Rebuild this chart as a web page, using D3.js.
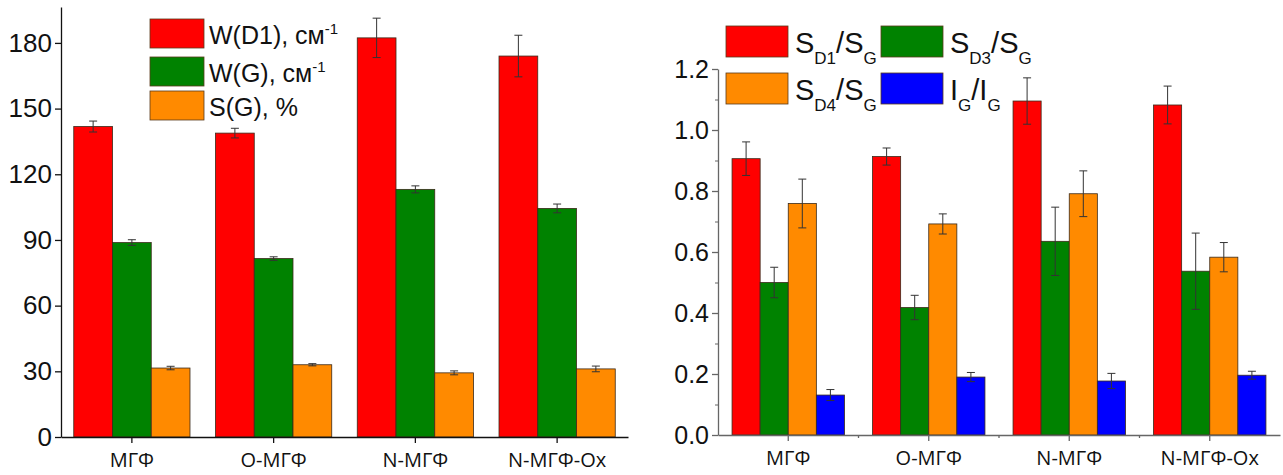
<!DOCTYPE html>
<html>
<head>
<meta charset="utf-8">
<script src="https://cdn.jsdelivr.net/npm/d3@7"></script>
<style>
  body { margin: 0; background: #fff; }
  svg { display: block; }
  .tick text { fill: #111; }
</style>
</head>
<body>
<svg width="1283" height="475"></svg>
<script>
const svg = d3.select('svg');

// categories
const categories = ['МГФ', 'O-МГФ', 'N-МГФ', 'N-МГФ-Ox'];

// left panel series
const wD1 = [141.8, 138.8, 182.3, 174.0];
const wD1Err = [2.5, 2.2, 9.0, 9.5];
const wG = [88.8, 81.5, 113.1, 104.4];
const wGErr = [1.3, 0.8, 1.6, 2.0];
const sG = [31.5, 33.0, 29.3, 31.1];
const sGErr = [0.8, 0.5, 0.9, 1.3];
const leftTicks = [0, 30, 60, 90, 120, 150, 180];

// right panel series
const sD1 = [0.906, 0.913, 1.095, 1.082];
const sD1Err = [0.055, 0.028, 0.076, 0.062];
const sD3 = [0.500, 0.418, 0.635, 0.537];
const sD3Err = [0.050, 0.040, 0.112, 0.125];
const sD4 = [0.759, 0.692, 0.791, 0.583];
const sD4Err = [0.080, 0.033, 0.075, 0.048];
const iG = [0.131, 0.190, 0.177, 0.196];
const iGErr = [0.018, 0.015, 0.025, 0.013];
const rightTicks = [0, 0.2, 0.4, 0.6, 0.8, 1.0, 1.2];
const rightMinor = [0.1, 0.3, 0.5, 0.7, 0.9, 1.1];

const colors = { red: '#ff0000', green: '#008200', orange: '#ff8a00', blue: '#0000ff' };

const leftSeries = [
  { key: 'wD1', values: wD1, err: wD1Err, color: colors.red },
  { key: 'wG', values: wG, err: wGErr, color: colors.green },
  { key: 'sG', values: sG, err: sGErr, color: colors.orange }
];
const rightSeries = [
  { key: 'sD1', values: sD1, err: sD1Err, color: colors.red },
  { key: 'sD3', values: sD3, err: sD3Err, color: colors.green },
  { key: 'sD4', values: sD4, err: sD4Err, color: colors.orange },
  { key: 'iG', values: iG, err: iGErr, color: colors.blue }
];

const drawPanel = (opt) => {
  const g = svg.append('g');
  const x = d3.scaleBand().domain(categories)
    .range([opt.x0, opt.x1]).paddingInner(opt.pad).paddingOuter(opt.pad / 2);
  const xs = d3.scaleBand().domain(opt.series.map(s => s.key))
    .range([0, x.bandwidth()]);
  const y = d3.scaleLinear().domain([0, opt.yMax]).range([opt.yBase, opt.yTop]);

  // bars
  opt.series.forEach(s => {
    const sg = g.append('g');
    sg.selectAll('rect').data(categories).enter().append('rect')
      .attr('x', (c) => x(c) + xs(s.key))
      .attr('y', (c, i) => y(s.values[i]))
      .attr('width', xs.bandwidth())
      .attr('height', (c, i) => y(0) - y(s.values[i]))
      .attr('fill', s.color)
      .attr('stroke', '#3a2a1a')
      .attr('stroke-width', 0.8);

    // error bars
    const eg = sg.selectAll('g.err').data(categories).enter().append('g')
      .attr('stroke', '#333').attr('stroke-width', 1);
    eg.append('line')
      .attr('x1', c => x(c) + xs(s.key) + xs.bandwidth() / 2)
      .attr('x2', c => x(c) + xs(s.key) + xs.bandwidth() / 2)
      .attr('y1', (c, i) => y(s.values[i] + s.err[i]))
      .attr('y2', (c, i) => y(s.values[i] - s.err[i]));
    [1, -1].forEach(sign => {
      eg.append('line')
        .attr('x1', c => x(c) + xs(s.key) + xs.bandwidth() / 2 - opt.cap)
        .attr('x2', c => x(c) + xs(s.key) + xs.bandwidth() / 2 + opt.cap)
        .attr('y1', (c, i) => y(s.values[i] + sign * s.err[i]))
        .attr('y2', (c, i) => y(s.values[i] + sign * s.err[i]));
    });
  });

  // y axis
  const ya = g.append('g').attr('transform', `translate(${opt.x0},0)`)
    .call(d3.axisLeft(y).tickValues(opt.ticks).tickFormat(opt.fmt)
      .tickSize(6).tickSizeOuter(0).tickPadding(3));
  ya.selectAll('text').style('font-family', '"Liberation Sans", Arial, sans-serif')
    .style('font-size', opt.tickFont + 'px');
  if (opt.minor) {
    g.append('g').attr('transform', `translate(${opt.x0},0)`)
      .call(d3.axisLeft(y).tickValues(opt.minor).tickFormat('').tickSize(3).tickSizeOuter(0))
      .select('.domain').remove();
  }

  // x axis
  const xa = g.append('g').attr('transform', `translate(0,${opt.yBase})`)
    .call(d3.axisBottom(x).tickSize(6).tickSizeOuter(0).tickPadding(10));
  xa.selectAll('text').style('font-family', '"Open Sans", "Liberation Sans", sans-serif')
    .style('font-size', '20px');
  if (opt.xMinor) {
    const mid = categories.slice(1).map(c => x(c) - x.step() * opt.pad / 2);
    xa.selectAll('line.minor').data(mid).enter().append('line')
      .attr('class', 'minor').attr('x1', d => d).attr('x2', d => d)
      .attr('y1', 0).attr('y2', 3).attr('stroke', opt.axisColor);
  }
  [ya, xa].forEach(a => {
    a.selectAll('.domain, line').attr('stroke', opt.axisColor).attr('stroke-width', 1.3);
  });
  g.selectAll('.tick line').attr('stroke', opt.axisColor);
  return g;
};

drawPanel({
  series: leftSeries, x0: 61, x1: 628, pad: 0.18, yBase: 437, yTop: 7, yMax: 196.4,
  ticks: leftTicks, fmt: d3.format('d'), tickFont: 26, cap: 4, axisColor: '#111'
});

drawPanel({
  series: rightSeries, x0: 718, x1: 1280, pad: 0.2, yBase: 435, yTop: 69, yMax: 1.2,
  ticks: rightTicks, fmt: d3.format('.1f'), tickFont: 25, cap: 4, axisColor: '#666',
  minor: rightMinor, xMinor: true
});

// left legend
const leftLegend = [
  { color: colors.red, main: 'W(D1), см', sup: '-1', y: 19 },
  { color: colors.green, main: 'W(G), см', sup: '-1', y: 57 },
  { color: colors.orange, main: 'S(G), %', sup: '', y: 91 }
];
const ll = svg.append('g').style('font-family', '"Liberation Sans", Arial, sans-serif');
leftLegend.forEach(d => {
  ll.append('rect').attr('x', 150).attr('y', d.y).attr('width', 54).attr('height', 29)
    .attr('fill', d.color).attr('stroke', '#5a3a1a').attr('stroke-width', 0.8);
  const t = ll.append('text').attr('x', 209).attr('y', d.y + 25).style('font-size', '25px').attr('fill', '#111');
  t.append('tspan').text(d.main);
  if (d.sup) t.append('tspan').attr('dy', -10).style('font-size', '15px').text(d.sup);
});

// right legend
const rightLegend = [
  { color: colors.red, x: 726, y: 26, parts: ['S', 'D1', '/S', 'G'] },
  { color: colors.green, x: 881, y: 26, parts: ['S', 'D3', '/S', 'G'] },
  { color: colors.orange, x: 726, y: 73, parts: ['S', 'D4', '/S', 'G'] },
  { color: colors.blue, x: 881, y: 73, parts: ['I', 'G', '/I', 'G'] }
];
const rl = svg.append('g').style('font-family', '"Liberation Sans", Arial, sans-serif');
rightLegend.forEach(d => {
  rl.append('rect').attr('x', d.x).attr('y', d.y).attr('width', 62).attr('height', 31)
    .attr('fill', d.color).attr('stroke', '#5a3a1a').attr('stroke-width', 0.8);
  const t = rl.append('text').attr('x', d.x + 69).attr('y', d.y + 27).style('font-size', '29px').attr('fill', '#111');
  t.append('tspan').text(d.parts[0]);
  t.append('tspan').attr('dy', 11).style('font-size', '17px').text(d.parts[1]);
  t.append('tspan').attr('dy', -11).text(d.parts[2]);
  t.append('tspan').attr('dy', 11).style('font-size', '17px').text(d.parts[3]);
});
</script>
</body>
</html>
